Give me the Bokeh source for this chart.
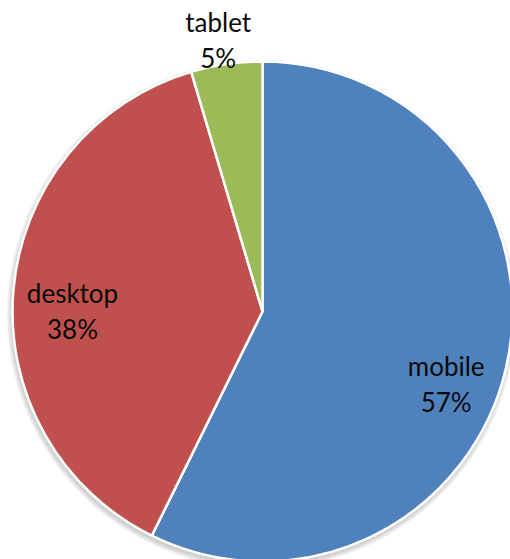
import math
from bokeh.plotting import figure
from bokeh.models import Range1d, ColumnDataSource
from bokeh.core.properties import value
from bokeh.embed import file_html
from bokeh.resources import INLINE

# Data
categories = ["mobile", "desktop", "tablet"]
shares = [57.3, 38.1, 4.6]
colors = ["#4F81BD", "#C0504D", "#9BBB59"]
pct_labels = ["57%", "38%", "5%"]

# Layout (pixel units)
W, H = 510, 559
cx, cy, R = 262, 248, 250
label_radius = [0.79, 0.76, 1.10]
label_angle_shift = [8.4, -4.6, -1.0]  # degrees, clockwise

p = figure(width=W, height=H, output_backend="svg", toolbar_location=None,
           x_range=Range1d(0, W), y_range=Range1d(0, H), min_border=0)
p.axis.visible = False
p.grid.visible = False
p.outline_line_color = None
p.background_fill_color = "white"

# soft shadow
for i in range(6):
    p.circle(x=[cx - 1], y=[cy - 3], radius=R + 0.3 + i * 0.9,
             fill_color="#808080", fill_alpha=0.07, line_color=None)

total = sum(shares)
starts, ends, mids = [], [], []
acc = 0.0
for s in shares:
    a0 = math.pi / 2 - 2 * math.pi * acc / total
    acc += s
    a1 = math.pi / 2 - 2 * math.pi * acc / total
    starts.append(a0)
    ends.append(a1)
    mids.append((a0 + a1) / 2)

src = ColumnDataSource(dict(start=starts, end=ends, color=colors, cat=categories))
p.wedge(x=cx, y=cy, radius=R, start_angle="start", end_angle="end",
        direction="clock", fill_color="color", line_color="white",
        line_width=2.5, source=src)

lx, ly = [], []
for m, f, sh in zip(mids, label_radius, label_angle_shift):
    a = m - math.radians(sh)
    lx.append(cx + f * R * math.cos(a))
    ly.append(cy + f * R * math.sin(a))

lsrc = ColumnDataSource(dict(x=lx, y=ly, name=categories, pct=pct_labels))
common = dict(text_font=value("Lato"), text_font_size="26px", text_color="#0a0a0a",
              text_align="center", text_baseline="middle", source=lsrc)
p.text(x="x", y="y", text="name", y_offset=-18, **common)
p.text(x="x", y="y", text="pct", y_offset=18, **common)

open("out.html", "w").write(file_html(p, INLINE))
